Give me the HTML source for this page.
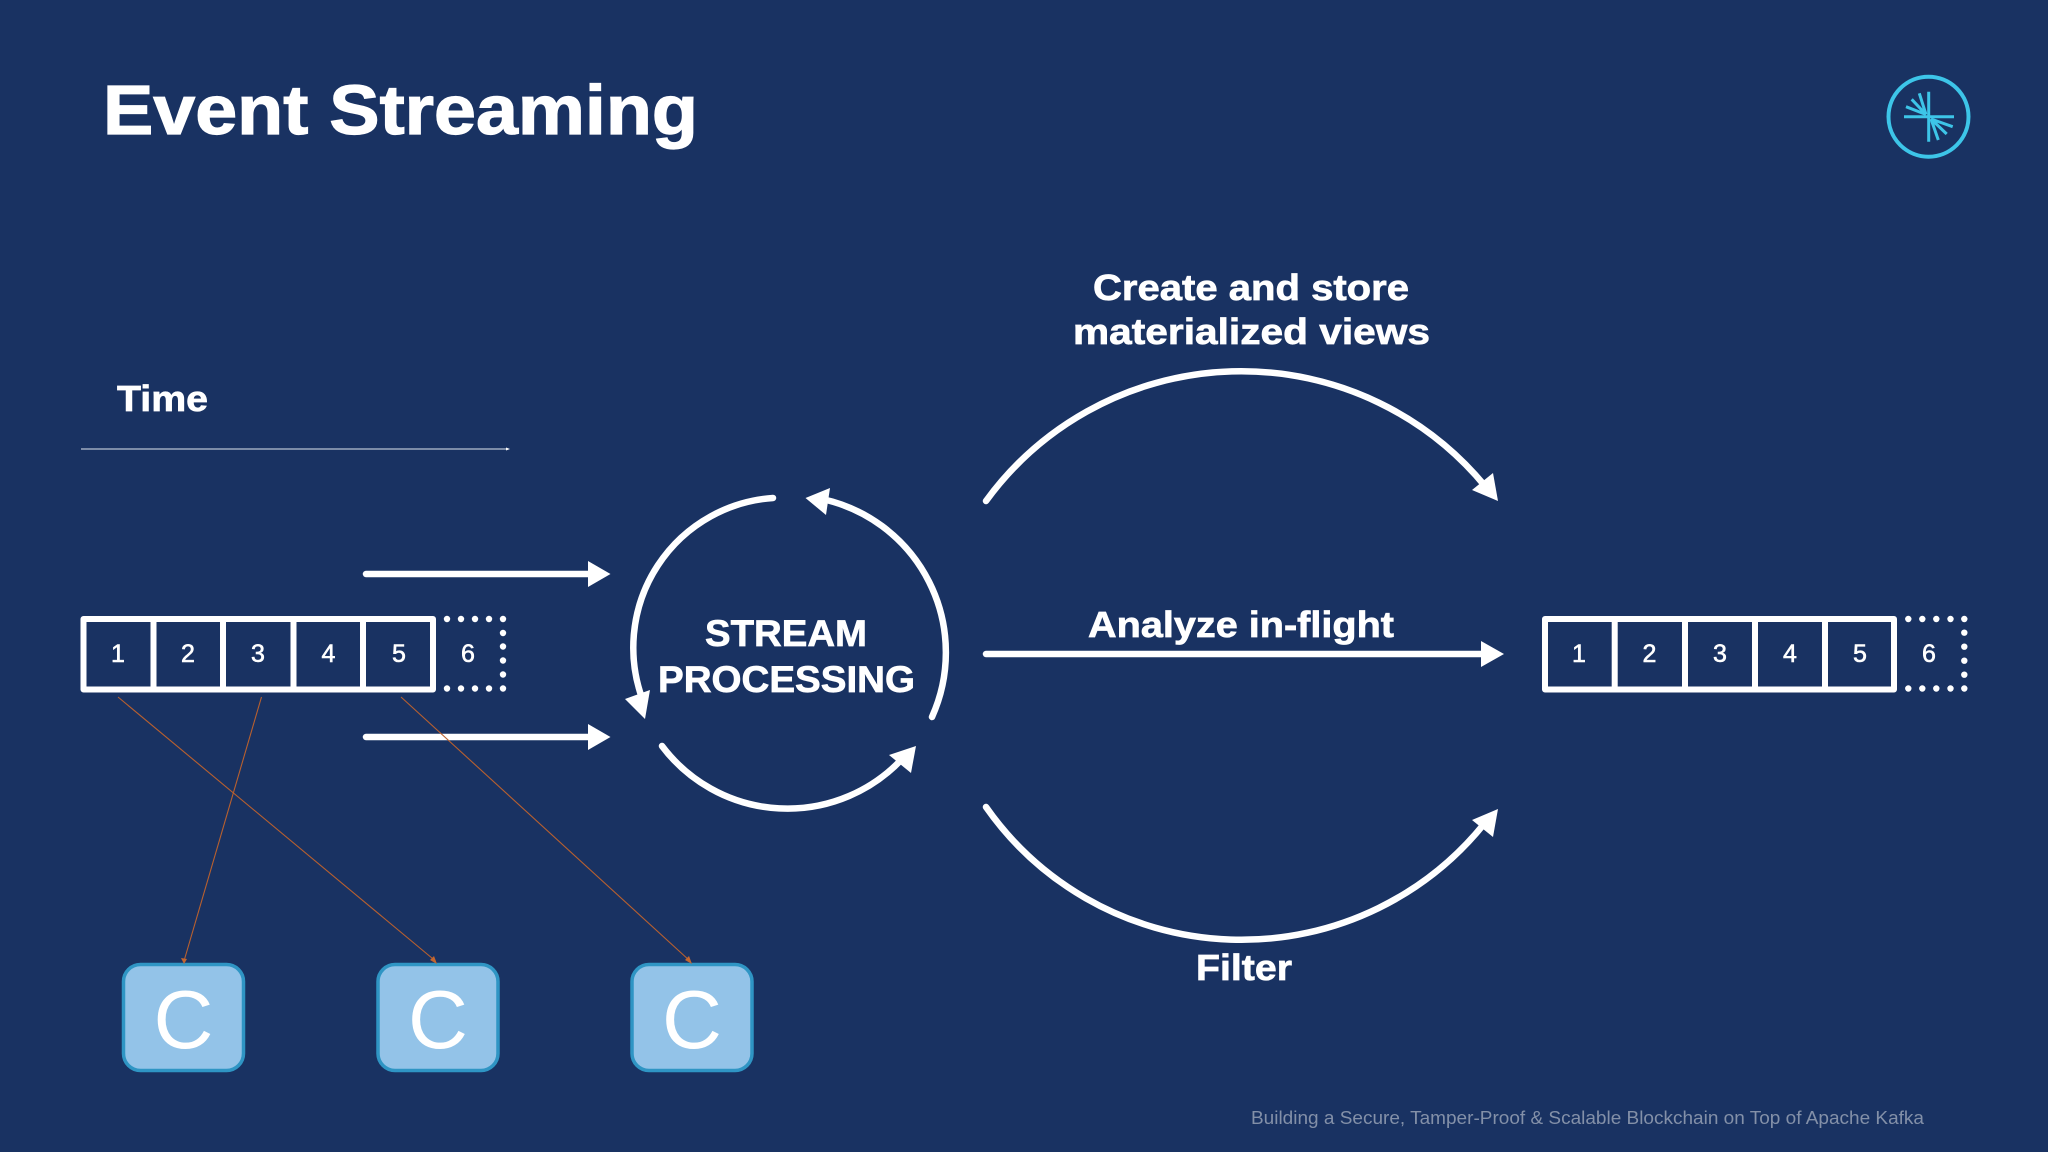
<!DOCTYPE html>
<html><head><meta charset="utf-8"><style>
html,body{margin:0;padding:0;background:#193262;width:2048px;height:1152px;overflow:hidden}
svg{display:block}
text{font-family:"Liberation Sans",sans-serif;fill:#fff}
.b{font-weight:700;stroke:#fff;stroke-width:.7}
.n{font-size:25px;text-anchor:middle;stroke:#fff;stroke-width:.6}
</style></head><body>
<svg width="2048" height="1152" viewBox="0 0 2048 1152" xmlns="http://www.w3.org/2000/svg">
<rect width="2048" height="1152" fill="#193262"/>

<text class="b" x="103" y="134" font-size="70" textLength="595" lengthAdjust="spacingAndGlyphs" style="stroke-width:1.2">Event Streaming</text>

<!-- logo -->
<g stroke="#3dc5e8" fill="none">
<circle cx="1928.5" cy="116.7" r="40" stroke-width="4"/>
<g stroke-width="3">
<path d="M1904 116.7H1954M1928.7 91.7V141.7"/>
<path d="M1926 114.5L1919.3 93.3M1926 114.5L1911.7 99.3M1926 114.5L1906 106.7M1931 119L1938.3 140M1931 119L1946.7 134M1931 119L1952.7 126.7"/>
</g></g>

<!-- time -->
<text class="b" x="117" y="411" font-size="36" textLength="91" lengthAdjust="spacingAndGlyphs">Time</text>
<line x1="81" y1="449" x2="507" y2="449" stroke="#dfe6ef" stroke-width="1"/>
<path d="M506 447.5L510 449L506 450.5Z" fill="#fff"/>

<!-- left log -->
<g fill="none" stroke="#fff" stroke-width="6" stroke-linejoin="round">
<rect x="83.5" y="619" width="349.5" height="70.5"/>
<path d="M153.5 619V689M223 619V689M293.5 619V689M363 619V689"/>
</g>
<text class="n" x="118" y="662">1</text><text class="n" x="188" y="662">2</text><text class="n" x="258" y="662">3</text><text class="n" x="328.5" y="662">4</text><text class="n" x="399" y="662">5</text><text class="n" x="468" y="662">6</text>
<g fill="#fff">
<circle cx="447" cy="619" r="3.2"/><circle cx="461" cy="619" r="3.2"/><circle cx="475" cy="619" r="3.2"/><circle cx="489" cy="619" r="3.2"/><circle cx="503" cy="619" r="3.2"/>
<circle cx="503" cy="633" r="3.2"/><circle cx="503" cy="646.5" r="3.2"/><circle cx="503" cy="660.5" r="3.2"/><circle cx="503" cy="674.5" r="3.2"/>
<circle cx="503" cy="688.5" r="3.2"/><circle cx="489" cy="688.5" r="3.2"/><circle cx="475" cy="688.5" r="3.2"/><circle cx="461" cy="688.5" r="3.2"/><circle cx="447" cy="688.5" r="3.2"/>
</g>

<!-- right log -->
<g fill="none" stroke="#fff" stroke-width="6" stroke-linejoin="round">
<rect x="1545" y="619" width="349" height="70.5"/>
<path d="M1614.7 619V689M1685 619V689M1755 619V689M1825 619V689"/>
</g>
<text class="n" x="1579" y="662">1</text><text class="n" x="1649.5" y="662">2</text><text class="n" x="1720" y="662">3</text><text class="n" x="1790" y="662">4</text><text class="n" x="1860" y="662">5</text><text class="n" x="1929" y="662">6</text>
<g fill="#fff">
<circle cx="1908.3" cy="619" r="3.2"/><circle cx="1922.3" cy="619" r="3.2"/><circle cx="1936.3" cy="619" r="3.2"/><circle cx="1950.5" cy="619" r="3.2"/><circle cx="1964.3" cy="619" r="3.2"/>
<circle cx="1964.3" cy="632.7" r="3.2"/><circle cx="1964.3" cy="646.7" r="3.2"/><circle cx="1964.3" cy="660.7" r="3.2"/><circle cx="1964.3" cy="674.7" r="3.2"/>
<circle cx="1964.3" cy="688.5" r="3.2"/><circle cx="1950.5" cy="688.5" r="3.2"/><circle cx="1936.3" cy="688.5" r="3.2"/><circle cx="1922.3" cy="688.5" r="3.2"/><circle cx="1908.3" cy="688.5" r="3.2"/>
</g>

<!-- straight arrows -->
<g stroke="#fff" stroke-width="6.5" stroke-linecap="round" fill="none">
<path d="M366 574H590"/><path d="M366 737H590"/><path d="M986 654H1483"/>
</g>
<g fill="#fff">
<path d="M588 561L610.5 574L588 587Z"/><path d="M588 724L610.5 737L588 750Z"/><path d="M1481 641L1504 654L1481 667Z"/>
</g>

<!-- cycle -->
<g fill="none" stroke="#fff" stroke-width="6.5" stroke-linecap="round">
<path d="M773 498A150 150 0 0 0 642 698"/>
<path d="M932 717A157 157 0 0 0 822 499"/>
<path d="M662 746A157 157 0 0 0 902 759"/>
</g>
<g fill="#fff">
<path d="M645 719L625 699L650 690Z"/>
<path d="M805.5 498L830 488L826 515Z"/>
<path d="M916 746L889 755L911 773Z"/>
</g>
<text class="b" x="705" y="646" font-size="37" textLength="162" lengthAdjust="spacingAndGlyphs">STREAM</text>
<text class="b" x="658" y="692" font-size="37" textLength="257" lengthAdjust="spacingAndGlyphs">PROCESSING</text>

<!-- big arcs -->
<g fill="none" stroke="#fff" stroke-width="6.5" stroke-linecap="round">
<path d="M986 501A316 316 0 0 1 1485 486"/>
<path d="M986 807A312 312 0 0 0 1484 824"/>
</g>
<g fill="#fff">
<path d="M1498 501L1472 490L1493 473Z"/>
<path d="M1498 809L1472 820L1493 837Z"/>
</g>
<text class="b" x="1093" y="300" font-size="36" textLength="316" lengthAdjust="spacingAndGlyphs">Create and store</text>
<text class="b" x="1073" y="344" font-size="36" textLength="357" lengthAdjust="spacingAndGlyphs">materialized views</text>
<text class="b" x="1088" y="637" font-size="36" textLength="306" lengthAdjust="spacingAndGlyphs">Analyze in-flight</text>
<text class="b" x="1196" y="980" font-size="36" textLength="96" lengthAdjust="spacingAndGlyphs">Filter</text>

<!-- consumers -->
<g fill="#93c3e8" stroke="#2f95c4" stroke-width="3.5">
<rect x="123.5" y="964.5" width="120" height="106" rx="17"/>
<rect x="378" y="964.5" width="120" height="106" rx="17"/>
<rect x="632" y="964.5" width="120" height="106" rx="17"/>
</g>
<text x="183.5" y="1048" font-size="83" text-anchor="middle">C</text>
<text x="438" y="1048" font-size="83" text-anchor="middle">C</text>
<text x="692" y="1048" font-size="83" text-anchor="middle">C</text>

<!-- orange connectors -->
<g stroke="#b8602f" stroke-width="1.1" fill="none">
<line x1="118" y1="697" x2="435.5" y2="961"/>
<line x1="261.5" y1="697" x2="184" y2="961"/>
<line x1="401" y1="697" x2="690" y2="961"/>
</g>
<g fill="#c4662f">
<path d="M437 964L430 960L434 956Z"/>
<path d="M184 964L181 958L187 959Z"/>
<path d="M692 964L685 960L689 956Z"/>
</g>

<text x="1251" y="1124" font-size="18" style="fill:#8390a8" textLength="673" lengthAdjust="spacingAndGlyphs">Building a Secure, Tamper-Proof &amp; Scalable Blockchain on Top of Apache Kafka</text>
</svg>
</body></html>
